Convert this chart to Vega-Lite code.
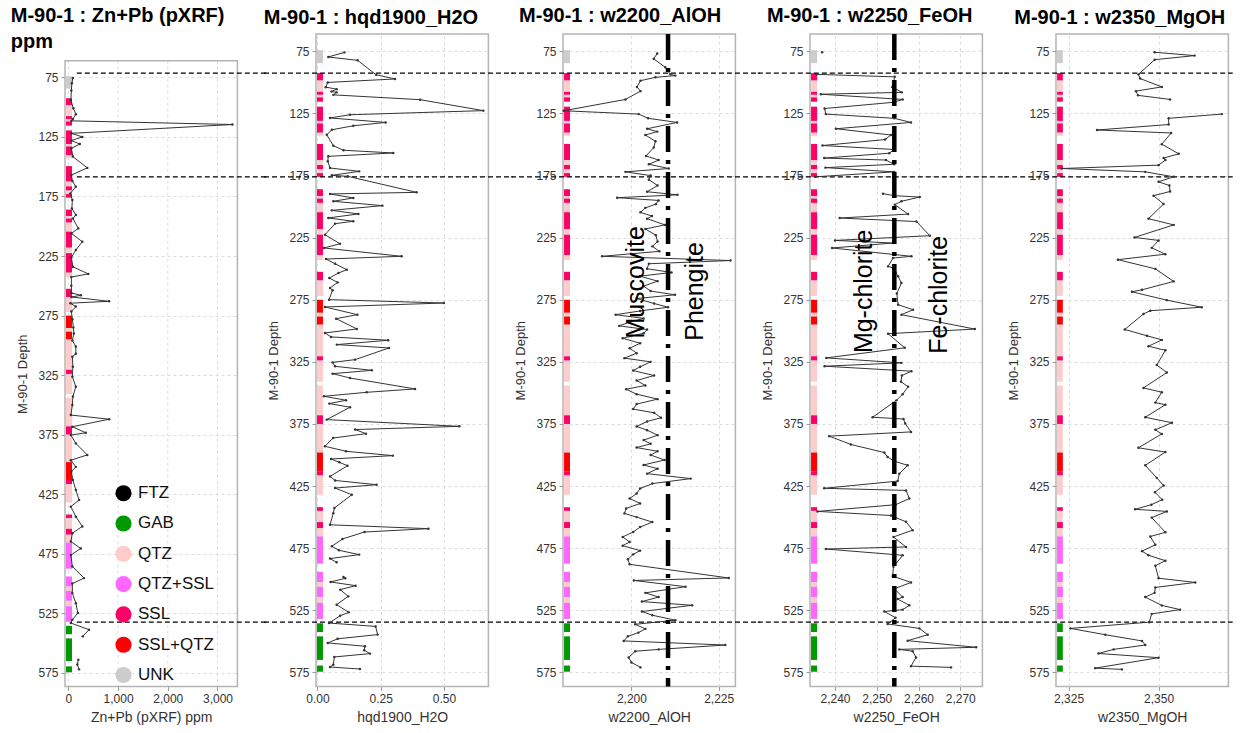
{
"$schema": "https://vega.github.io/schema/vega-lite/v6.json",
"background": "white",
"padding": {"left": 10, "top": 5, "right": 0, "bottom": 0},
"spacing": -6,
"bounds": "full",
"config": {
  "font": "Liberation Sans",
  "view": {"stroke": "#b4b4b4", "strokeWidth": 1.5},
  "axis": {"grid": true, "gridColor": "#dddddd", "gridDash": [3, 3], "gridWidth": 1, "domain": false, "ticks": true, "tickColor": "#999999", "tickSize": 4, "labelColor": "#333333", "labelFontSize": 12, "labelOverlap": false, "titleColor": "#333333", "titleFontWeight": "normal"},
  "axisX": {"titleFontSize": 14, "labelPadding": 3, "titlePadding": 6},
  "axisY": {"titleFontSize": 13, "labelPadding": 3, "titlePadding": 8},
  "title": {"fontSize": 20, "fontWeight": "bold", "anchor": "start", "frame": "bounds", "color": "#000000", "offset": 6}
},
"resolve": {"scale": {"color": "independent"}, "legend": {"color": "independent"}},
"datasets": {
  "litho": [
    {"from": 74, "to": 84.5, "litho": "UNK"},
    {"from": 92.5, "to": 98.5, "litho": "SSL"},
    {"from": 98.5, "to": 107, "litho": "QTZ"},
    {"from": 107.5, "to": 110, "litho": "SSL"},
    {"from": 110, "to": 112, "litho": "QTZ"},
    {"from": 112, "to": 115.5, "litho": "SSL"},
    {"from": 119.5, "to": 131, "litho": "SSL"},
    {"from": 131, "to": 133, "litho": "QTZ"},
    {"from": 133, "to": 140.5, "litho": "SSL"},
    {"from": 140.5, "to": 143, "litho": "QTZ"},
    {"from": 149.5, "to": 162.5, "litho": "SSL"},
    {"from": 162.5, "to": 166.5, "litho": "QTZ"},
    {"from": 166.5, "to": 170, "litho": "SSL"},
    {"from": 170, "to": 173, "litho": "QTZ"},
    {"from": 173, "to": 176, "litho": "SSL"},
    {"from": 186, "to": 191.5, "litho": "SSL"},
    {"from": 191.5, "to": 193.5, "litho": "QTZ"},
    {"from": 193.5, "to": 197, "litho": "SSL"},
    {"from": 197, "to": 204.5, "litho": "QTZ"},
    {"from": 204.5, "to": 218, "litho": "SSL"},
    {"from": 218, "to": 222, "litho": "QTZ"},
    {"from": 222.5, "to": 239, "litho": "SSL"},
    {"from": 239, "to": 243, "litho": "QTZ"},
    {"from": 252.5, "to": 259.5, "litho": "SSL"},
    {"from": 259.5, "to": 272, "litho": "QTZ"},
    {"from": 275, "to": 285.5, "litho": "SSL+QTZ"},
    {"from": 285.5, "to": 288.5, "litho": "QTZ"},
    {"from": 288.5, "to": 295, "litho": "SSL+QTZ"},
    {"from": 295.5, "to": 320.5, "litho": "QTZ"},
    {"from": 320.5, "to": 324, "litho": "SSL"},
    {"from": 324, "to": 341, "litho": "QTZ"},
    {"from": 344, "to": 368, "litho": "QTZ"},
    {"from": 368, "to": 375, "litho": "SSL"},
    {"from": 375, "to": 398, "litho": "QTZ"},
    {"from": 398, "to": 413, "litho": "SSL+QTZ"},
    {"from": 413, "to": 416.5, "litho": "SSL"},
    {"from": 416.5, "to": 432, "litho": "QTZ"},
    {"from": 442, "to": 445, "litho": "SSL"},
    {"from": 445, "to": 454, "litho": "QTZ"},
    {"from": 454, "to": 459, "litho": "SSL"},
    {"from": 459, "to": 465.5, "litho": "QTZ"},
    {"from": 465.5, "to": 487.5, "litho": "QTZ+SSL"},
    {"from": 494, "to": 502.5, "litho": "QTZ+SSL"},
    {"from": 502.5, "to": 506, "litho": "QTZ"},
    {"from": 506, "to": 514.5, "litho": "QTZ+SSL"},
    {"from": 514.5, "to": 519, "litho": "QTZ"},
    {"from": 519, "to": 532, "litho": "QTZ+SSL"},
    {"from": 535.5, "to": 542.5, "litho": "GAB"},
    {"from": 546, "to": 565, "litho": "GAB"},
    {"from": 569.5, "to": 574.5, "litho": "GAB"}
  ],
  "cuts": [{"depth": 92.5}, {"depth": 176}, {"depth": 534.5}],
  "cuts1": [{"depth": 71.4}, {"depth": 158.5}, {"depth": 532.4}],
  "frame1": [{"top": 61, "bottom": 586.3}],
  "grid1": [{"value": 0}, {"value": 1000}, {"value": 2000}, {"value": 3000}],
  "sub1": [{"label": "ppm", "value": -1160, "depth": 50.1}],
  "bound3": [{"value": 2210.5}],
  "bound4": [{"value": 2254.2}],
  "ann3": [{"label": "Muscovite", "value": 2201.2, "depth": 261}, {"label": "Phengite", "value": 2218.3, "depth": 268.3}],
  "ann4": [{"label": "Mg-chlorite", "value": 2247, "depth": 268.2}, {"label": "Fe-chlorite", "value": 2264.9, "depth": 271}],
  "zn": [
    {"depth": 75.5, "value": 90, "seg": 1}, {"depth": 80, "value": 70, "seg": 1}, {"depth": 86, "value": 60, "seg": 1}, {"depth": 94, "value": 50, "seg": 1},
    {"depth": 101, "value": 100, "seg": 1}, {"depth": 106, "value": 150, "seg": 1}, {"depth": 110, "value": 90, "seg": 1}, {"depth": 111.5, "value": 60, "seg": 1},
    {"depth": 114.6, "value": 3300, "seg": 1}, {"depth": 122, "value": 60, "seg": 1}, {"depth": 125, "value": 280, "seg": 1}, {"depth": 128, "value": 60, "seg": 1},
    {"depth": 131, "value": 230, "seg": 1}, {"depth": 134.5, "value": 60, "seg": 1}, {"depth": 141.5, "value": 90, "seg": 1}, {"depth": 151, "value": 380, "seg": 1},
    {"depth": 157, "value": 60, "seg": 1}, {"depth": 162, "value": 80, "seg": 1}, {"depth": 166.8, "value": 150, "seg": 1}, {"depth": 172.4, "value": 40, "seg": 1},
    {"depth": 178, "value": 80, "seg": 1}, {"depth": 185, "value": 70, "seg": 1}, {"depth": 190.6, "value": 150, "seg": 1}, {"depth": 193.4, "value": 90, "seg": 1},
    {"depth": 201.8, "value": 200, "seg": 1}, {"depth": 206, "value": 60, "seg": 1}, {"depth": 213, "value": 280, "seg": 1}, {"depth": 220, "value": 150, "seg": 1},
    {"depth": 226, "value": 60, "seg": 1}, {"depth": 234, "value": 90, "seg": 1}, {"depth": 240, "value": 400, "seg": 1}, {"depth": 242.6, "value": 60, "seg": 1},
    {"depth": 250, "value": 60, "seg": 1}, {"depth": 256, "value": 60, "seg": 1}, {"depth": 258, "value": 250, "seg": 1}, {"depth": 259.4, "value": 60, "seg": 1},
    {"depth": 263, "value": 820, "seg": 1}, {"depth": 264.6, "value": 40, "seg": 1}, {"depth": 267.4, "value": 150, "seg": 1}, {"depth": 271.6, "value": 60, "seg": 1},
    {"depth": 278, "value": 80, "seg": 1}, {"depth": 285, "value": 100, "seg": 1}, {"depth": 290, "value": 110, "seg": 1}, {"depth": 296, "value": 80, "seg": 1},
    {"depth": 301, "value": 150, "seg": 1}, {"depth": 307, "value": 150, "seg": 1}, {"depth": 309.5, "value": 80, "seg": 1}, {"depth": 318, "value": 90, "seg": 1},
    {"depth": 326.4, "value": 80, "seg": 1}, {"depth": 334.8, "value": 150, "seg": 1}, {"depth": 343, "value": 90, "seg": 1}, {"depth": 350, "value": 80, "seg": 1},
    {"depth": 358.5, "value": 50, "seg": 1}, {"depth": 362, "value": 820, "seg": 1}, {"depth": 368.3, "value": 80, "seg": 1}, {"depth": 373.4, "value": 350, "seg": 1},
    {"depth": 375.3, "value": 50, "seg": 1}, {"depth": 382.3, "value": 150, "seg": 1}, {"depth": 392, "value": 380, "seg": 1}, {"depth": 396.4, "value": 50, "seg": 1},
    {"depth": 402, "value": 150, "seg": 1}, {"depth": 406, "value": 60, "seg": 1}, {"depth": 413, "value": 90, "seg": 1}, {"depth": 421.4, "value": 150, "seg": 1},
    {"depth": 429.8, "value": 215, "seg": 1}, {"depth": 435.4, "value": 50, "seg": 1}, {"depth": 443.8, "value": 150, "seg": 1}, {"depth": 452, "value": 280, "seg": 1},
    {"depth": 457.7, "value": 80, "seg": 1}, {"depth": 464.7, "value": 50, "seg": 1}, {"depth": 470.5, "value": 250, "seg": 1}, {"depth": 476, "value": 50, "seg": 1},
    {"depth": 485.7, "value": 80, "seg": 1}, {"depth": 495.4, "value": 315, "seg": 1}, {"depth": 500, "value": 80, "seg": 1}, {"depth": 508, "value": 80, "seg": 1},
    {"depth": 516.4, "value": 150, "seg": 1}, {"depth": 524.7, "value": 190, "seg": 1}, {"depth": 530.3, "value": 80, "seg": 1}, {"depth": 533.1, "value": 50, "seg": 1},
    {"depth": 538.7, "value": 415, "seg": 1}, {"depth": 544.3, "value": 290, "seg": 1},
    {"depth": 564, "value": 200, "seg": 2}, {"depth": 568, "value": 180, "seg": 2}, {"depth": 572, "value": 215, "seg": 2}
  ],
  "hqd": [
    {"depth": 75.8, "value": 0.107, "seg": 1}, {"depth": 79.5, "value": 0.043, "seg": 1}, {"depth": 82.2, "value": 0.159, "seg": 1}, {"depth": 93.8, "value": 0.232, "seg": 1},
    {"depth": 97.2, "value": 0.307, "seg": 1}, {"depth": 100, "value": 0.041, "seg": 1}, {"depth": 103.8, "value": 0.033, "seg": 1}, {"depth": 105.4, "value": 0.076, "seg": 1},
    {"depth": 107.3, "value": 0.056, "seg": 1}, {"depth": 108, "value": 0.076, "seg": 1}, {"depth": 110, "value": 0.063, "seg": 1}, {"depth": 113.9, "value": 0.406, "seg": 1},
    {"depth": 122.7, "value": 0.656, "seg": 1}, {"depth": 126, "value": 0.129, "seg": 1}, {"depth": 128.6, "value": 0.05, "seg": 1}, {"depth": 132.2, "value": 0.27, "seg": 1},
    {"depth": 134.9, "value": 0.142, "seg": 1}, {"depth": 138.1, "value": 0.057, "seg": 1}, {"depth": 142.2, "value": 0.037, "seg": 1}, {"depth": 150.9, "value": 0.063, "seg": 1},
    {"depth": 154.6, "value": 0.103, "seg": 1}, {"depth": 156.8, "value": 0.3, "seg": 1}, {"depth": 159.5, "value": 0.043, "seg": 1}, {"depth": 163.5, "value": 0.041, "seg": 1},
    {"depth": 168.9, "value": 0.05, "seg": 1}, {"depth": 171.6, "value": 0.165, "seg": 1}, {"depth": 174.8, "value": 0.057, "seg": 1}, {"depth": 175.6, "value": 0.12, "seg": 1},
    {"depth": 188.5, "value": 0.392, "seg": 1}, {"depth": 189.8, "value": 0.05, "seg": 1}, {"depth": 193, "value": 0.142, "seg": 1}, {"depth": 195.7, "value": 0.063, "seg": 1},
    {"depth": 199.2, "value": 0.257, "seg": 1}, {"depth": 203, "value": 0.057, "seg": 1}, {"depth": 205.9, "value": 0.162, "seg": 1}, {"depth": 209.1, "value": 0.043, "seg": 1},
    {"depth": 211.8, "value": 0.142, "seg": 1}, {"depth": 213.7, "value": 0.07, "seg": 1}, {"depth": 222.6, "value": 0.03, "seg": 1}, {"depth": 229.9, "value": 0.089, "seg": 1},
    {"depth": 233.3, "value": 0.026, "seg": 1}, {"depth": 240, "value": 0.333, "seg": 1}, {"depth": 242.2, "value": 0.034, "seg": 1}, {"depth": 246, "value": 0.07, "seg": 1},
    {"depth": 250.8, "value": 0.116, "seg": 1}, {"depth": 253.5, "value": 0.083, "seg": 1}, {"depth": 257.5, "value": 0.047, "seg": 1}, {"depth": 261, "value": 0.08, "seg": 1},
    {"depth": 265.5, "value": 0.05, "seg": 1}, {"depth": 267.3, "value": 0.06, "seg": 1}, {"depth": 274.9, "value": 0.046, "seg": 1}, {"depth": 277.6, "value": 0.5, "seg": 1},
    {"depth": 280.8, "value": 0.03, "seg": 1}, {"depth": 287, "value": 0.158, "seg": 1}, {"depth": 290.2, "value": 0.074, "seg": 1}, {"depth": 298.5, "value": 0.156, "seg": 1},
    {"depth": 301.7, "value": 0.03, "seg": 1}, {"depth": 304.9, "value": 0.054, "seg": 1}, {"depth": 307.6, "value": 0.28, "seg": 1}, {"depth": 311.1, "value": 0.077, "seg": 1},
    {"depth": 313.8, "value": 0.283, "seg": 1}, {"depth": 323.2, "value": 0.149, "seg": 1}, {"depth": 325.4, "value": 0.06, "seg": 1}, {"depth": 328.6, "value": 0.07, "seg": 1},
    {"depth": 331.8, "value": 0.215, "seg": 1}, {"depth": 334.5, "value": 0.06, "seg": 1}, {"depth": 338, "value": 0.129, "seg": 1}, {"depth": 346.8, "value": 0.386, "seg": 1},
    {"depth": 349.5, "value": 0.195, "seg": 1}, {"depth": 352.7, "value": 0.026, "seg": 1}, {"depth": 355.9, "value": 0.113, "seg": 1}, {"depth": 358.6, "value": 0.047, "seg": 1},
    {"depth": 361.5, "value": 0.129, "seg": 1}, {"depth": 371.5, "value": 0.037, "seg": 1}, {"depth": 376.9, "value": 0.561, "seg": 1}, {"depth": 379.5, "value": 0.149, "seg": 1},
    {"depth": 382.8, "value": 0.192, "seg": 1}, {"depth": 386.3, "value": 0.062, "seg": 1}, {"depth": 393, "value": 0.03, "seg": 1}, {"depth": 397, "value": 0.113, "seg": 1},
    {"depth": 400.5, "value": 0.298, "seg": 1}, {"depth": 403.2, "value": 0.054, "seg": 1}, {"depth": 405.9, "value": 0.087, "seg": 1}, {"depth": 408.6, "value": 0.119, "seg": 1},
    {"depth": 417.2, "value": 0.05, "seg": 1}, {"depth": 420.5, "value": 0.07, "seg": 1}, {"depth": 423.9, "value": 0.234, "seg": 1}, {"depth": 426.6, "value": 0.07, "seg": 1},
    {"depth": 432, "value": 0.136, "seg": 1}, {"depth": 442.7, "value": 0.067, "seg": 1}, {"depth": 446.8, "value": 0.063, "seg": 1}, {"depth": 456.2, "value": 0.05, "seg": 1},
    {"depth": 459.3, "value": 0.439, "seg": 1}, {"depth": 462, "value": 0.186, "seg": 1}, {"depth": 467.6, "value": 0.099, "seg": 1}, {"depth": 473.5, "value": 0.057, "seg": 1},
    {"depth": 476.7, "value": 0.085, "seg": 1}, {"depth": 480.2, "value": 0.165, "seg": 1}, {"depth": 483.4, "value": 0.05, "seg": 1}, {"depth": 486.4, "value": 0.076, "seg": 1},
    {"depth": 498.2, "value": 0.103, "seg": 2}, {"depth": 499.3, "value": 0.11, "seg": 2}, {"depth": 502.2, "value": 0.052, "seg": 2}, {"depth": 505.2, "value": 0.151, "seg": 2},
    {"depth": 508.4, "value": 0.09, "seg": 2}, {"depth": 513.8, "value": 0.122, "seg": 2}, {"depth": 520.5, "value": 0.076, "seg": 2}, {"depth": 526.7, "value": 0.124, "seg": 2},
    {"depth": 529.4, "value": 0.09, "seg": 2}, {"depth": 535.3, "value": 0.046, "seg": 2}, {"depth": 538, "value": 0.23, "seg": 2}, {"depth": 544.6, "value": 0.238, "seg": 2},
    {"depth": 548, "value": 0.08, "seg": 2}, {"depth": 551.3, "value": 0.041, "seg": 2}, {"depth": 554, "value": 0.188, "seg": 2}, {"depth": 557.2, "value": 0.185, "seg": 2},
    {"depth": 559.9, "value": 0.208, "seg": 2}, {"depth": 562.6, "value": 0.067, "seg": 2}, {"depth": 568.8, "value": 0.063, "seg": 2}, {"depth": 570.7, "value": 0.05, "seg": 2},
    {"depth": 572.3, "value": 0.168, "seg": 2}
  ],
  "aloh": [
    {"depth": 76.7, "value": 2207.4}, {"depth": 81, "value": 2206.4}, {"depth": 87.8, "value": 2209.7}, {"depth": 93.5, "value": 2211.2}, {"depth": 94.5, "value": 2212.6},
    {"depth": 95.9, "value": 2206.9}, {"depth": 98.6, "value": 2202.6}, {"depth": 103.6, "value": 2201.6}, {"depth": 107, "value": 2202.6}, {"depth": 113.7, "value": 2198.3},
    {"depth": 122.8, "value": 2180.6}, {"depth": 125.5, "value": 2202.1}, {"depth": 128.9, "value": 2204.8}, {"depth": 132.2, "value": 2213.1}, {"depth": 137.3, "value": 2204.5},
    {"depth": 139.6, "value": 2207.4}, {"depth": 142.3, "value": 2204}, {"depth": 147.4, "value": 2206.9}, {"depth": 152.4, "value": 2206.4}, {"depth": 159.2, "value": 2204.2},
    {"depth": 162.5, "value": 2207.8}, {"depth": 165.9, "value": 2205}, {"depth": 169.3, "value": 2210.7}, {"depth": 172, "value": 2198.3}, {"depth": 175, "value": 2205.5},
    {"depth": 178.3, "value": 2205}, {"depth": 183, "value": 2207.5}, {"depth": 188, "value": 2204.5}, {"depth": 190.5, "value": 2213.2}, {"depth": 192.8, "value": 2195.9},
    {"depth": 195, "value": 2207.8}, {"depth": 198, "value": 2207}, {"depth": 201, "value": 2204}, {"depth": 204.6, "value": 2202.6}, {"depth": 207.6, "value": 2205.9},
    {"depth": 209.7, "value": 2204.5}, {"depth": 214.7, "value": 2209.6}, {"depth": 218, "value": 2204}, {"depth": 223, "value": 2207}, {"depth": 228, "value": 2207.5},
    {"depth": 232, "value": 2206}, {"depth": 236, "value": 2208}, {"depth": 240, "value": 2191.6}, {"depth": 243.4, "value": 2228.4}, {"depth": 246, "value": 2205},
    {"depth": 250, "value": 2204.5}, {"depth": 253, "value": 2211.5}, {"depth": 256, "value": 2202.5}, {"depth": 260, "value": 2207.5}, {"depth": 264, "value": 2203.5},
    {"depth": 268, "value": 2205.5}, {"depth": 271, "value": 2212.5}, {"depth": 274, "value": 2201.5}, {"depth": 278, "value": 2206.5}, {"depth": 281, "value": 2210.5},
    {"depth": 284, "value": 2202.5}, {"depth": 287, "value": 2195.5}, {"depth": 290, "value": 2203.5}, {"depth": 293, "value": 2199.5}, {"depth": 296, "value": 2196.5},
    {"depth": 299, "value": 2204.5}, {"depth": 302, "value": 2203.5}, {"depth": 306, "value": 2197.5}, {"depth": 310, "value": 2202.5}, {"depth": 314, "value": 2199.5},
    {"depth": 318, "value": 2201.5}, {"depth": 322, "value": 2198}, {"depth": 325, "value": 2205.5}, {"depth": 329, "value": 2202.5}, {"depth": 332, "value": 2200.5},
    {"depth": 336, "value": 2206.5}, {"depth": 340, "value": 2201.5}, {"depth": 344, "value": 2204}, {"depth": 347, "value": 2198.5}, {"depth": 351, "value": 2201.5},
    {"depth": 355, "value": 2207.5}, {"depth": 359, "value": 2201.5}, {"depth": 363, "value": 2200.5}, {"depth": 366, "value": 2206.5}, {"depth": 370, "value": 2208.5},
    {"depth": 373, "value": 2204.5}, {"depth": 377, "value": 2201.5}, {"depth": 380, "value": 2204.5}, {"depth": 384, "value": 2207.5}, {"depth": 388, "value": 2203.5},
    {"depth": 391, "value": 2205.5}, {"depth": 394, "value": 2201.5}, {"depth": 397, "value": 2207.5}, {"depth": 400, "value": 2205.5}, {"depth": 404, "value": 2209.5},
    {"depth": 408, "value": 2203.5}, {"depth": 411, "value": 2207.5}, {"depth": 415, "value": 2204.5}, {"depth": 419, "value": 2217}, {"depth": 423, "value": 2206},
    {"depth": 427, "value": 2202.5}, {"depth": 431, "value": 2201.5}, {"depth": 435, "value": 2199.5}, {"depth": 439, "value": 2202.5}, {"depth": 443, "value": 2198.5},
    {"depth": 447, "value": 2198}, {"depth": 450, "value": 2201.5}, {"depth": 454, "value": 2206}, {"depth": 458, "value": 2202.5}, {"depth": 462, "value": 2200.5},
    {"depth": 466, "value": 2197.5}, {"depth": 470, "value": 2199.5}, {"depth": 473, "value": 2197.5}, {"depth": 477, "value": 2202.5}, {"depth": 480, "value": 2200.5},
    {"depth": 484, "value": 2199}, {"depth": 488, "value": 2199.5}, {"depth": 499, "value": 2227.9}, {"depth": 501, "value": 2200.7}, {"depth": 506, "value": 2215.5},
    {"depth": 511, "value": 2204}, {"depth": 514.4, "value": 2207.8}, {"depth": 518, "value": 2203}, {"depth": 521, "value": 2217.4}, {"depth": 526, "value": 2203},
    {"depth": 529, "value": 2206}, {"depth": 533, "value": 2212.6}, {"depth": 536.3, "value": 2201.1}, {"depth": 540, "value": 2204}, {"depth": 543, "value": 2202},
    {"depth": 546, "value": 2199}, {"depth": 549.7, "value": 2197.8}, {"depth": 553, "value": 2226.9}, {"depth": 556.5, "value": 2207.8}, {"depth": 558, "value": 2201.1},
    {"depth": 563, "value": 2199.2}, {"depth": 567, "value": 2200}, {"depth": 571, "value": 2202.6}
  ],
  "feoh": [
    {"depth": 75.7, "value": 2236.9, "seg": 0},
    {"depth": 93.5, "value": 2235.6, "seg": 1}, {"depth": 95.5, "value": 2254.3, "seg": 1}, {"depth": 103.6, "value": 2253.7, "seg": 1}, {"depth": 108, "value": 2256, "seg": 1},
    {"depth": 109.5, "value": 2236.6, "seg": 1}, {"depth": 113.7, "value": 2256.2, "seg": 1}, {"depth": 116, "value": 2254, "seg": 1}, {"depth": 121, "value": 2237.5, "seg": 1},
    {"depth": 125.5, "value": 2237.8, "seg": 1}, {"depth": 128.9, "value": 2254.2, "seg": 1}, {"depth": 132.2, "value": 2258.2, "seg": 1}, {"depth": 137.3, "value": 2240.2, "seg": 1},
    {"depth": 142.3, "value": 2253.4, "seg": 1}, {"depth": 146, "value": 2252, "seg": 1}, {"depth": 150.8, "value": 2237, "seg": 1}, {"depth": 154, "value": 2254.2, "seg": 1},
    {"depth": 157, "value": 2253, "seg": 1}, {"depth": 160.9, "value": 2237.4, "seg": 1}, {"depth": 162.5, "value": 2252.2, "seg": 1}, {"depth": 165.9, "value": 2254.2, "seg": 1},
    {"depth": 168.6, "value": 2237.7, "seg": 1}, {"depth": 172, "value": 2254.2, "seg": 1}, {"depth": 176, "value": 2235.2, "seg": 1},
    {"depth": 189.6, "value": 2251.5, "seg": 2}, {"depth": 191.2, "value": 2254.3, "seg": 2}, {"depth": 192.3, "value": 2260.3, "seg": 2}, {"depth": 195.7, "value": 2255.9, "seg": 2},
    {"depth": 198.4, "value": 2254.3, "seg": 2}, {"depth": 206, "value": 2257.5, "seg": 2}, {"depth": 209.2, "value": 2241.1, "seg": 2}, {"depth": 212, "value": 2259.5, "seg": 2},
    {"depth": 223.4, "value": 2262.7, "seg": 2}, {"depth": 227.2, "value": 2240, "seg": 2}, {"depth": 229.3, "value": 2253.9, "seg": 2}, {"depth": 233.3, "value": 2239.3, "seg": 2},
    {"depth": 240, "value": 2258.3, "seg": 2}, {"depth": 241.4, "value": 2253.9, "seg": 2}, {"depth": 248.1, "value": 2252.7, "seg": 2}, {"depth": 249.4, "value": 2253.9, "seg": 2},
    {"depth": 253, "value": 2254.5, "seg": 2}, {"depth": 256, "value": 2255.1, "seg": 2}, {"depth": 261.5, "value": 2255.9, "seg": 2}, {"depth": 270, "value": 2254.8, "seg": 2},
    {"depth": 279, "value": 2255.1, "seg": 2}, {"depth": 283, "value": 2258.7, "seg": 2}, {"depth": 287, "value": 2255.9, "seg": 2}, {"depth": 298.6, "value": 2273.5, "seg": 2},
    {"depth": 302.3, "value": 2252.7, "seg": 2}, {"depth": 313.7, "value": 2256.7, "seg": 2}, {"depth": 321.8, "value": 2237.9, "seg": 2}, {"depth": 325.8, "value": 2255.9, "seg": 2},
    {"depth": 328.5, "value": 2237.5, "seg": 2}, {"depth": 332.5, "value": 2258.3, "seg": 2}, {"depth": 336, "value": 2256, "seg": 2}, {"depth": 341, "value": 2255.8, "seg": 2},
    {"depth": 345, "value": 2257.5, "seg": 2}, {"depth": 351, "value": 2256.2, "seg": 2}, {"depth": 356, "value": 2254.7, "seg": 2}, {"depth": 369.6, "value": 2249, "seg": 2},
    {"depth": 371, "value": 2256.4, "seg": 2}, {"depth": 374.7, "value": 2256.8, "seg": 2}, {"depth": 381.4, "value": 2258.2, "seg": 2}, {"depth": 384.8, "value": 2238.6, "seg": 2},
    {"depth": 391.5, "value": 2243.8, "seg": 2}, {"depth": 398, "value": 2251.8, "seg": 2}, {"depth": 401.6, "value": 2252.6, "seg": 2}, {"depth": 405, "value": 2254.2, "seg": 2},
    {"depth": 408.3, "value": 2257.4, "seg": 2}, {"depth": 415, "value": 2255.4, "seg": 2}, {"depth": 421, "value": 2255, "seg": 2}, {"depth": 426.8, "value": 2237.4, "seg": 2},
    {"depth": 428.5, "value": 2257, "seg": 2}, {"depth": 435, "value": 2257.8, "seg": 2}, {"depth": 440, "value": 2254.5, "seg": 2}, {"depth": 445.4, "value": 2235.8, "seg": 2},
    {"depth": 448.7, "value": 2253.4, "seg": 2}, {"depth": 453.8, "value": 2257, "seg": 2}, {"depth": 460.5, "value": 2258.6, "seg": 2}, {"depth": 466, "value": 2254, "seg": 2},
    {"depth": 474, "value": 2257, "seg": 2}, {"depth": 475.7, "value": 2237.8, "seg": 2}, {"depth": 480.7, "value": 2256.2, "seg": 2}, {"depth": 490, "value": 2254, "seg": 2},
    {"depth": 497.5, "value": 2253.8, "seg": 2}, {"depth": 502.6, "value": 2258.2, "seg": 2}, {"depth": 507.7, "value": 2254.2, "seg": 2}, {"depth": 514.4, "value": 2256.2, "seg": 2},
    {"depth": 516, "value": 2255, "seg": 2}, {"depth": 521, "value": 2257.8, "seg": 2}, {"depth": 524.5, "value": 2256.2, "seg": 2}, {"depth": 526, "value": 2251.8, "seg": 2},
    {"depth": 531, "value": 2254.5, "seg": 2}, {"depth": 536, "value": 2252.6, "seg": 2}, {"depth": 539.6, "value": 2260.2, "seg": 2}, {"depth": 544.7, "value": 2262.2, "seg": 2},
    {"depth": 549.5, "value": 2257.4, "seg": 2}, {"depth": 554.8, "value": 2273.8, "seg": 2}, {"depth": 556.5, "value": 2255.4, "seg": 2}, {"depth": 558, "value": 2258.6, "seg": 2},
    {"depth": 563, "value": 2259.4, "seg": 2}, {"depth": 570, "value": 2258.2, "seg": 2}, {"depth": 571, "value": 2267.8, "seg": 2}
  ],
  "mgoh": [
    {"depth": 75.7, "value": 2348.9, "seg": 1}, {"depth": 78.4, "value": 2360, "seg": 1}, {"depth": 81.7, "value": 2348.9, "seg": 1}, {"depth": 93.5, "value": 2344.4, "seg": 1},
    {"depth": 96.9, "value": 2344.9, "seg": 1}, {"depth": 103.6, "value": 2350.9, "seg": 1}, {"depth": 107, "value": 2343.7, "seg": 1}, {"depth": 110.4, "value": 2344.3, "seg": 1},
    {"depth": 113.7, "value": 2353.2, "seg": 1},
    {"depth": 125.5, "value": 2367.6, "seg": 2}, {"depth": 128.9, "value": 2352.8, "seg": 2}, {"depth": 133.9, "value": 2352.8, "seg": 2}, {"depth": 138.3, "value": 2332.9, "seg": 2},
    {"depth": 140.7, "value": 2353.5, "seg": 2}, {"depth": 149.7, "value": 2350.9, "seg": 2}, {"depth": 157.5, "value": 2355.6, "seg": 2}, {"depth": 160.9, "value": 2351.4, "seg": 2},
    {"depth": 162.5, "value": 2351.9, "seg": 2}, {"depth": 166.6, "value": 2350, "seg": 2}, {"depth": 169.3, "value": 2323.1, "seg": 2}, {"depth": 172, "value": 2346.3, "seg": 2},
    {"depth": 176, "value": 2354.2, "seg": 2}, {"depth": 180, "value": 2350, "seg": 2}, {"depth": 183, "value": 2353, "seg": 2}, {"depth": 187.8, "value": 2353.2, "seg": 2},
    {"depth": 191.2, "value": 2348.6, "seg": 2}, {"depth": 197.9, "value": 2351.4, "seg": 2}, {"depth": 209.7, "value": 2347.2, "seg": 2}, {"depth": 214.7, "value": 2354.2, "seg": 2},
    {"depth": 224.8, "value": 2343.3, "seg": 2}, {"depth": 227.2, "value": 2350, "seg": 2}, {"depth": 233.2, "value": 2348.1, "seg": 2}, {"depth": 238.3, "value": 2351.9, "seg": 2},
    {"depth": 242.7, "value": 2338.7, "seg": 2}, {"depth": 250.1, "value": 2349.1, "seg": 2}, {"depth": 260.2, "value": 2354.2, "seg": 2}, {"depth": 267, "value": 2345.4, "seg": 2},
    {"depth": 268.6, "value": 2342.6, "seg": 2}, {"depth": 275.3, "value": 2352.3, "seg": 2}, {"depth": 281, "value": 2362, "seg": 2}, {"depth": 283.8, "value": 2347.7, "seg": 2},
    {"depth": 286.4, "value": 2345.8, "seg": 2}, {"depth": 298.9, "value": 2340.6, "seg": 2}, {"depth": 304, "value": 2346.8, "seg": 2}, {"depth": 307.3, "value": 2350.9, "seg": 2},
    {"depth": 312.4, "value": 2347.2, "seg": 2}, {"depth": 315.7, "value": 2351.9, "seg": 2}, {"depth": 327.5, "value": 2349.5, "seg": 2}, {"depth": 333.6, "value": 2352.3, "seg": 2},
    {"depth": 346, "value": 2345.8, "seg": 2}, {"depth": 349.4, "value": 2350.9, "seg": 2}, {"depth": 357.8, "value": 2349.1, "seg": 2}, {"depth": 359.5, "value": 2351.9, "seg": 2},
    {"depth": 369.6, "value": 2346.3, "seg": 2}, {"depth": 374, "value": 2353.7, "seg": 2}, {"depth": 379.7, "value": 2349.1, "seg": 2}, {"depth": 383, "value": 2350.9, "seg": 2},
    {"depth": 394.2, "value": 2344.4, "seg": 2}, {"depth": 397.6, "value": 2351.9, "seg": 2}, {"depth": 408.3, "value": 2346.3, "seg": 2}, {"depth": 418.4, "value": 2349.5, "seg": 2},
    {"depth": 424.5, "value": 2351.4, "seg": 2}, {"depth": 430, "value": 2349, "seg": 2}, {"depth": 436, "value": 2351, "seg": 2}, {"depth": 440, "value": 2348, "seg": 2},
    {"depth": 443.7, "value": 2343.5, "seg": 2}, {"depth": 445.4, "value": 2352.3, "seg": 2}, {"depth": 450.4, "value": 2348.1, "seg": 2}, {"depth": 462.2, "value": 2351.9, "seg": 2},
    {"depth": 465.6, "value": 2347.7, "seg": 2}, {"depth": 472.3, "value": 2349.1, "seg": 2}, {"depth": 477.4, "value": 2345.4, "seg": 2}, {"depth": 480.7, "value": 2347.2, "seg": 2},
    {"depth": 485.1, "value": 2351.9, "seg": 2}, {"depth": 489.1, "value": 2349.1, "seg": 2}, {"depth": 499.2, "value": 2350, "seg": 2}, {"depth": 502.6, "value": 2360.2, "seg": 2},
    {"depth": 506.6, "value": 2349.1, "seg": 2}, {"depth": 511, "value": 2348.9, "seg": 2}, {"depth": 514.4, "value": 2346.3, "seg": 2}, {"depth": 521.1, "value": 2350.9, "seg": 2},
    {"depth": 524.5, "value": 2356, "seg": 2}, {"depth": 527.9, "value": 2348.1, "seg": 2}, {"depth": 534.6, "value": 2347.4, "seg": 2}, {"depth": 539.6, "value": 2325.5, "seg": 2},
    {"depth": 544.7, "value": 2335.2, "seg": 2}, {"depth": 549.7, "value": 2345.4, "seg": 2}, {"depth": 553, "value": 2346.3, "seg": 2}, {"depth": 556.5, "value": 2337.5, "seg": 2},
    {"depth": 559.8, "value": 2333.3, "seg": 2}, {"depth": 563.2, "value": 2350, "seg": 2}, {"depth": 571.6, "value": 2332.4, "seg": 2}, {"depth": 572.6, "value": 2339.8, "seg": 2}
  ]
},
"hconcat": [
  {
    "width": 172.4, "height": 652.4,
    "view": {"stroke": null},
    "title": {"text": "M-90-1 : Zn+Pb (pXRF)"},
    "layer": [
      {"data": {"name": "grid1"}, "mark": {"type": "rule", "color": "#dddddd", "strokeDash": [3, 3], "strokeWidth": 1},
       "encoding": {
         "x": {"field": "value", "type": "quantitative", "title": "Zn+Pb (pXRF) ppm", "scale": {"domain": [-68, 3401], "nice": false, "zero": false}, "axis": {"values": [0, 1000, 2000, 3000], "format": ",d", "grid": false}},
         "y": {"datum": 61, "type": "quantitative", "title": "M-90-1 Depth", "scale": {"domain": [38.6, 586.3], "reverse": true, "nice": false, "zero": false}, "axis": {"values": [75,100,125,150,175,200,225,250,275,300,325,350,375,400,425,450,475,500,525,550,575], "titleY": 339.7}},
         "y2": {"datum": 586.3}
       }},
      {"data": {"name": "frame1"}, "mark": {"type": "rect", "fill": "transparent", "stroke": "#b4b4b4", "strokeWidth": 1.5},
       "encoding": {
         "x": {"datum": -68, "type": "quantitative", "title": "Zn+Pb (pXRF) ppm", "scale": {"domain": [-68, 3401], "nice": false, "zero": false}},
         "x2": {"datum": 3401},
         "y": {"field": "top", "type": "quantitative", "title": "M-90-1 Depth", "scale": {"domain": [38.6, 586.3], "reverse": true, "nice": false, "zero": false}},
         "y2": {"field": "bottom"}
       }},
      {"data": {"name": "litho"}, "mark": {"type": "rect"},
       "encoding": {
         "x": {"datum": -48, "type": "quantitative", "title": "Zn+Pb (pXRF) ppm", "scale": {"domain": [-68, 3401], "nice": false, "zero": false}},
         "x2": {"datum": 73},
         "y": {"field": "from", "type": "quantitative", "title": "M-90-1 Depth", "scale": {"domain": [38.6, 586.3], "reverse": true, "nice": false, "zero": false}},
         "y2": {"field": "to"},
         "color": {"field": "litho", "type": "nominal", "scale": {"domain": ["FTZ","GAB","QTZ","QTZ+SSL","SSL","SSL+QTZ","UNK"], "range": ["#000000","#009900","#ffcccc","#ff66ff","#ff0066","#ff0000","#cccccc"]},
           "legend": {"orient": "none", "legendX": 50, "legendY": 450.7, "title": null, "symbolType": "circle", "symbolSize": 260, "symbolStrokeWidth": 0, "symbolOpacity": 1, "labelFontSize": 17, "labelColor": "#111111", "rowPadding": 12.3, "labelOffset": 6}}
       }},
      {"data": {"name": "cuts1"}, "mark": {"type": "rule", "strokeDash": [5, 3], "color": "#000000", "strokeWidth": 1.2},
       "encoding": {
         "x": {"datum": 170, "type": "quantitative", "title": "Zn+Pb (pXRF) ppm", "scale": {"domain": [-68, 3401], "nice": false, "zero": false}},
         "x2": {"datum": 3990},
         "y": {"field": "depth", "type": "quantitative", "title": "M-90-1 Depth", "scale": {"domain": [38.6, 586.3], "reverse": true, "nice": false, "zero": false}}
       }},
      {"data": {"name": "zn"}, "mark": {"type": "line", "color": "#333333", "strokeWidth": 1, "point": {"filled": true, "size": 6, "color": "#333333"}},
       "encoding": {
         "x": {"field": "value", "type": "quantitative", "title": "Zn+Pb (pXRF) ppm", "scale": {"domain": [-68, 3401], "nice": false, "zero": false}},
         "y": {"field": "depth", "type": "quantitative", "title": "M-90-1 Depth", "scale": {"domain": [38.6, 586.3], "reverse": true, "nice": false, "zero": false}},
         "order": {"field": "depth", "type": "quantitative"},
         "detail": {"field": "seg", "type": "nominal"}
       }},
      {"data": {"name": "sub1"}, "mark": {"type": "text", "fontSize": 20, "fontWeight": "bold", "color": "#000000", "align": "left", "baseline": "alphabetic"},
       "encoding": {
         "x": {"field": "value", "type": "quantitative", "title": "Zn+Pb (pXRF) ppm", "scale": {"domain": [-68, 3401], "nice": false, "zero": false}},
         "y": {"field": "depth", "type": "quantitative", "title": "M-90-1 Depth", "scale": {"domain": [38.6, 586.3], "reverse": true, "nice": false, "zero": false}},
         "text": {"field": "label", "type": "nominal"}
       }}
    ]
  },
  {
    "width": 172.4, "height": 652.4,
    "title": {"text": "M-90-1 : hqd1900_H2O", "dx": 0.4},
    "layer": [
      {"data": {"name": "litho"}, "mark": {"type": "rect"},
       "encoding": {
         "x": {"datum": -0.0016, "type": "quantitative", "title": "hqd1900_H2O", "scale": {"domain": [-0.0055, 0.6759], "nice": false, "zero": false}, "axis": {"values": [0, 0.25, 0.5], "format": ".2f"}},
         "x2": {"datum": 0.022},
         "y": {"field": "from", "type": "quantitative", "title": "M-90-1 Depth", "scale": {"domain": [61, 586.3], "reverse": true, "nice": false, "zero": false}, "axis": {"values": [75,100,125,150,175,200,225,250,275,300,325,350,375,400,425,450,475,500,525,550,575]}},
         "y2": {"field": "to"},
         "color": {"field": "litho", "type": "nominal", "scale": {"domain": ["FTZ","GAB","QTZ","QTZ+SSL","SSL","SSL+QTZ","UNK"], "range": ["#000000","#009900","#ffcccc","#ff66ff","#ff0066","#ff0000","#cccccc"]}, "legend": null}
       }},
      {"data": {"name": "cuts"}, "mark": {"type": "rule", "strokeDash": [5, 3], "color": "#000000", "strokeWidth": 1.2},
       "encoding": {
         "x": {"datum": -0.211, "type": "quantitative", "title": "hqd1900_H2O", "scale": {"domain": [-0.0055, 0.6759], "nice": false, "zero": false}},
         "x2": {"datum": 0.772},
         "y": {"field": "depth", "type": "quantitative", "title": "M-90-1 Depth", "scale": {"domain": [61, 586.3], "reverse": true, "nice": false, "zero": false}}
       }},
      {"data": {"name": "hqd"}, "mark": {"type": "line", "color": "#333333", "strokeWidth": 1, "point": {"filled": true, "size": 6, "color": "#333333"}},
       "encoding": {
         "x": {"field": "value", "type": "quantitative", "title": "hqd1900_H2O", "scale": {"domain": [-0.0055, 0.6759], "nice": false, "zero": false}},
         "y": {"field": "depth", "type": "quantitative", "title": "M-90-1 Depth", "scale": {"domain": [61, 586.3], "reverse": true, "nice": false, "zero": false}},
         "order": {"field": "depth", "type": "quantitative"},
         "detail": {"field": "seg", "type": "nominal"}
       }}
    ]
  },
  {
    "width": 172.4, "height": 652.4,
    "title": {"text": "M-90-1 : w2200_AlOH", "dx": 8.7},
    "layer": [
      {"data": {"name": "litho"}, "mark": {"type": "rect"},
       "encoding": {
         "x": {"datum": 2180.7, "type": "quantitative", "title": "w2200_AlOH", "scale": {"domain": [2180.4, 2229.8], "nice": false, "zero": false}, "axis": {"values": [2200, 2225], "format": ",d"}},
         "x2": {"datum": 2182.4},
         "y": {"field": "from", "type": "quantitative", "title": "M-90-1 Depth", "scale": {"domain": [61, 586.3], "reverse": true, "nice": false, "zero": false}, "axis": {"values": [75,100,125,150,175,200,225,250,275,300,325,350,375,400,425,450,475,500,525,550,575]}},
         "y2": {"field": "to"},
         "color": {"field": "litho", "type": "nominal", "scale": {"domain": ["FTZ","GAB","QTZ","QTZ+SSL","SSL","SSL+QTZ","UNK"], "range": ["#000000","#009900","#ffcccc","#ff66ff","#ff0066","#ff0000","#cccccc"]}, "legend": null}
       }},
      {"data": {"name": "cuts"}, "mark": {"type": "rule", "strokeDash": [5, 3], "color": "#000000", "strokeWidth": 1.2},
       "encoding": {
         "x": {"datum": 2165.5, "type": "quantitative", "title": "w2200_AlOH", "scale": {"domain": [2180.4, 2229.8], "nice": false, "zero": false}},
         "x2": {"datum": 2236.8},
         "y": {"field": "depth", "type": "quantitative", "title": "M-90-1 Depth", "scale": {"domain": [61, 586.3], "reverse": true, "nice": false, "zero": false}}
       }},
      {"data": {"name": "aloh"}, "mark": {"type": "line", "color": "#333333", "strokeWidth": 1, "point": {"filled": true, "size": 6, "color": "#333333"}},
       "encoding": {
         "x": {"field": "value", "type": "quantitative", "title": "w2200_AlOH", "scale": {"domain": [2180.4, 2229.8], "nice": false, "zero": false}},
         "y": {"field": "depth", "type": "quantitative", "title": "M-90-1 Depth", "scale": {"domain": [61, 586.3], "reverse": true, "nice": false, "zero": false}},
         "order": {"field": "depth", "type": "quantitative"}
       }},
      {"data": {"name": "bound3"}, "mark": {"type": "rule", "color": "#000000", "strokeWidth": 4.5, "strokeDash": [26, 8, 4, 8]},
       "encoding": {
         "x": {"field": "value", "type": "quantitative", "title": "w2200_AlOH", "scale": {"domain": [2180.4, 2229.8], "nice": false, "zero": false}}
       }},
      {"data": {"name": "ann3"}, "mark": {"type": "text", "angle": 270, "fontSize": 25, "color": "#000000", "align": "center", "baseline": "middle"},
       "encoding": {
         "x": {"field": "value", "type": "quantitative", "title": "w2200_AlOH", "scale": {"domain": [2180.4, 2229.8], "nice": false, "zero": false}},
         "y": {"field": "depth", "type": "quantitative", "title": "M-90-1 Depth", "scale": {"domain": [61, 586.3], "reverse": true, "nice": false, "zero": false}},
         "text": {"field": "label", "type": "nominal"}
       }}
    ]
  },
  {
    "width": 172.4, "height": 652.4,
    "title": {"text": "M-90-1 : w2250_FeOH", "dx": 9.7},
    "layer": [
      {"data": {"name": "litho"}, "mark": {"type": "rect"},
       "encoding": {
         "x": {"datum": 2234.25, "type": "quantitative", "title": "w2250_FeOH", "scale": {"domain": [2234, 2275.3], "nice": false, "zero": false}, "axis": {"values": [2240, 2250, 2260, 2270], "format": ",d"}},
         "x2": {"datum": 2235.7},
         "y": {"field": "from", "type": "quantitative", "title": "M-90-1 Depth", "scale": {"domain": [61, 586.3], "reverse": true, "nice": false, "zero": false}, "axis": {"values": [75,100,125,150,175,200,225,250,275,300,325,350,375,400,425,450,475,500,525,550,575]}},
         "y2": {"field": "to"},
         "color": {"field": "litho", "type": "nominal", "scale": {"domain": ["FTZ","GAB","QTZ","QTZ+SSL","SSL","SSL+QTZ","UNK"], "range": ["#000000","#009900","#ffcccc","#ff66ff","#ff0066","#ff0000","#cccccc"]}, "legend": null}
       }},
      {"data": {"name": "cuts"}, "mark": {"type": "rule", "strokeDash": [5, 3], "color": "#000000", "strokeWidth": 1.2},
       "encoding": {
         "x": {"datum": 2221.5, "type": "quantitative", "title": "w2250_FeOH", "scale": {"domain": [2234, 2275.3], "nice": false, "zero": false}},
         "x2": {"datum": 2281.1},
         "y": {"field": "depth", "type": "quantitative", "title": "M-90-1 Depth", "scale": {"domain": [61, 586.3], "reverse": true, "nice": false, "zero": false}}
       }},
      {"data": {"name": "feoh"}, "mark": {"type": "line", "color": "#333333", "strokeWidth": 1, "point": {"filled": true, "size": 6, "color": "#333333"}},
       "encoding": {
         "x": {"field": "value", "type": "quantitative", "title": "w2250_FeOH", "scale": {"domain": [2234, 2275.3], "nice": false, "zero": false}},
         "y": {"field": "depth", "type": "quantitative", "title": "M-90-1 Depth", "scale": {"domain": [61, 586.3], "reverse": true, "nice": false, "zero": false}},
         "order": {"field": "depth", "type": "quantitative"},
         "detail": {"field": "seg", "type": "nominal"}
       }},
      {"data": {"name": "bound4"}, "mark": {"type": "rule", "color": "#000000", "strokeWidth": 4.5, "strokeDash": [26, 8, 4, 8]},
       "encoding": {
         "x": {"field": "value", "type": "quantitative", "title": "w2250_FeOH", "scale": {"domain": [2234, 2275.3], "nice": false, "zero": false}}
       }},
      {"data": {"name": "ann4"}, "mark": {"type": "text", "angle": 270, "fontSize": 25, "color": "#000000", "align": "center", "baseline": "middle"},
       "encoding": {
         "x": {"field": "value", "type": "quantitative", "title": "w2250_FeOH", "scale": {"domain": [2234, 2275.3], "nice": false, "zero": false}},
         "y": {"field": "depth", "type": "quantitative", "title": "M-90-1 Depth", "scale": {"domain": [61, 586.3], "reverse": true, "nice": false, "zero": false}},
         "text": {"field": "label", "type": "nominal"}
       }}
    ]
  },
  {
    "width": 172.4, "height": 652.4,
    "title": {"text": "M-90-1 : w2350_MgOH", "dx": 10.7},
    "layer": [
      {"data": {"name": "litho"}, "mark": {"type": "rect"},
       "encoding": {
         "x": {"datum": 2321.8, "type": "quantitative", "title": "w2350_MgOH", "scale": {"domain": [2321.5, 2369.4], "nice": false, "zero": false}, "axis": {"values": [2325, 2350], "format": ",d"}},
         "x2": {"datum": 2323.4},
         "y": {"field": "from", "type": "quantitative", "title": "M-90-1 Depth", "scale": {"domain": [61, 586.3], "reverse": true, "nice": false, "zero": false}, "axis": {"values": [75,100,125,150,175,200,225,250,275,300,325,350,375,400,425,450,475,500,525,550,575]}},
         "y2": {"field": "to"},
         "color": {"field": "litho", "type": "nominal", "scale": {"domain": ["FTZ","GAB","QTZ","QTZ+SSL","SSL","SSL+QTZ","UNK"], "range": ["#000000","#009900","#ffcccc","#ff66ff","#ff0066","#ff0000","#cccccc"]}, "legend": null}
       }},
      {"data": {"name": "cuts"}, "mark": {"type": "rule", "strokeDash": [5, 3], "color": "#000000", "strokeWidth": 1.2},
       "encoding": {
         "x": {"datum": 2307.1, "type": "quantitative", "title": "w2350_MgOH", "scale": {"domain": [2321.5, 2369.4], "nice": false, "zero": false}},
         "x2": {"datum": 2370.6},
         "y": {"field": "depth", "type": "quantitative", "title": "M-90-1 Depth", "scale": {"domain": [61, 586.3], "reverse": true, "nice": false, "zero": false}}
       }},
      {"data": {"name": "mgoh"}, "mark": {"type": "line", "color": "#333333", "strokeWidth": 1, "point": {"filled": true, "size": 6, "color": "#333333"}},
       "encoding": {
         "x": {"field": "value", "type": "quantitative", "title": "w2350_MgOH", "scale": {"domain": [2321.5, 2369.4], "nice": false, "zero": false}},
         "y": {"field": "depth", "type": "quantitative", "title": "M-90-1 Depth", "scale": {"domain": [61, 586.3], "reverse": true, "nice": false, "zero": false}},
         "order": {"field": "depth", "type": "quantitative"},
         "detail": {"field": "seg", "type": "nominal"}
       }}
    ]
  }
]
}
